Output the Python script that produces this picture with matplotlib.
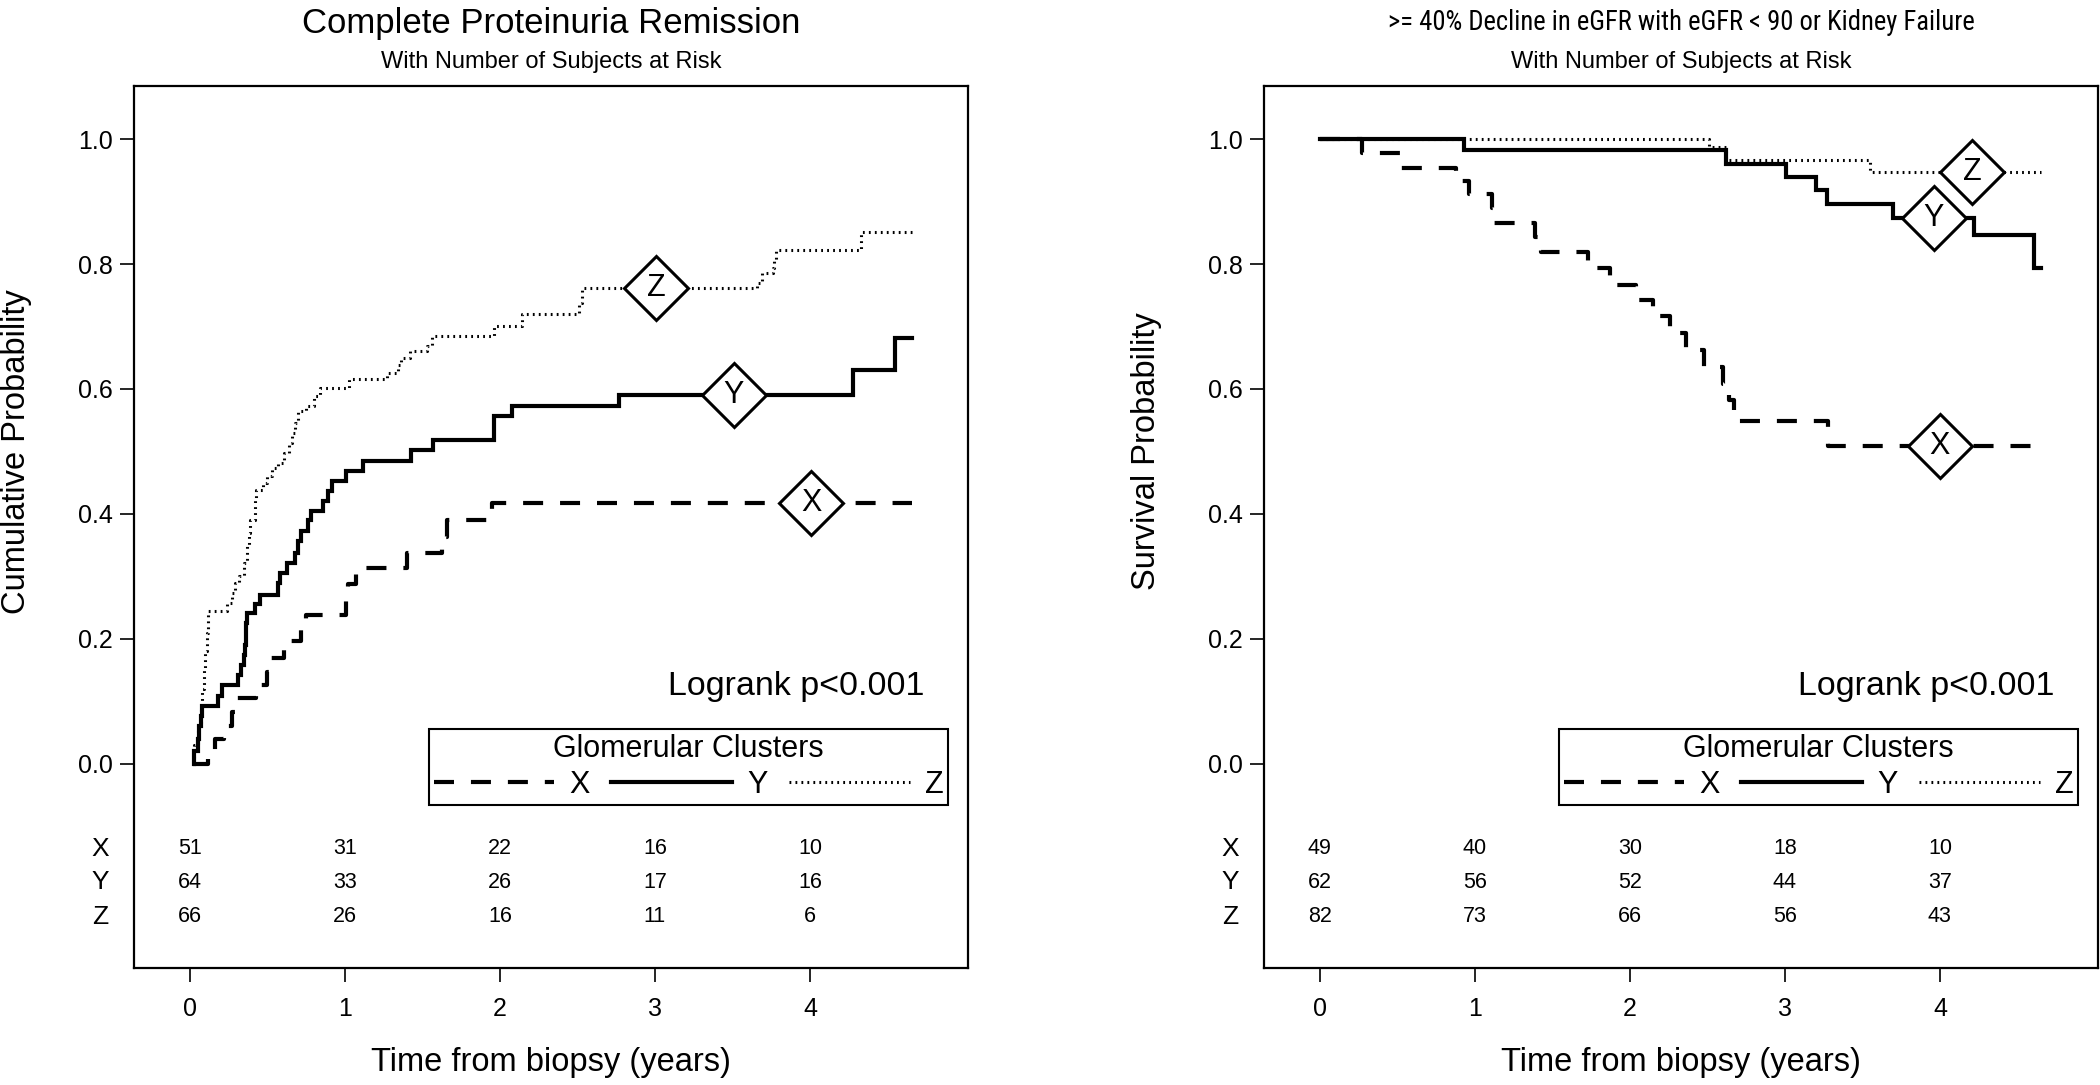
import matplotlib
matplotlib.use("Agg")
import matplotlib.pyplot as plt
from matplotlib import font_manager
from matplotlib.transforms import blended_transform_factory

plt.rcParams['font.family'] = ['Liberation Sans', 'DejaVu Sans']
plt.rcParams['lines.scale_dashes'] = False

CLUSTERS = ["X", "Y", "Z"]
YEARS = [0, 1, 2, 3, 4]

# --- left panel: complete proteinuria remission (cumulative probability, step after t) ---
rem_x_t = [0.02, 0.12, 0.16, 0.22, 0.27, 0.29, 0.43, 0.50, 0.51, 0.61, 0.72, 0.75, 1.01, 1.02,
           1.07, 1.40, 1.63, 1.66, 1.95, 4.66]
rem_x_p = [0.0, 0.02, 0.04, 0.06, 0.083, 0.105, 0.126, 0.147, 0.169, 0.196, 0.217, 0.238, 0.262,
           0.287, 0.313, 0.337, 0.363, 0.39, 0.417, 0.417]
rem_y_t = [0.025, 0.03, 0.05, 0.06, 0.07, 0.08, 0.18, 0.21, 0.31, 0.33, 0.35, 0.355, 0.36, 0.365,
           0.37, 0.42, 0.45, 0.57, 0.58, 0.63, 0.68, 0.70, 0.72, 0.76, 0.78, 0.86, 0.89, 0.92,
           1.01, 1.12, 1.43, 1.57, 1.96, 2.08, 2.77, 4.28, 4.55, 4.66]
rem_y_p = [0.0, 0.02, 0.04, 0.06, 0.077, 0.092, 0.108, 0.126, 0.142, 0.158, 0.174, 0.19, 0.209,
           0.225, 0.241, 0.255, 0.27, 0.289, 0.305, 0.321, 0.337, 0.356, 0.372, 0.39, 0.404,
           0.42, 0.436, 0.452, 0.468, 0.484, 0.503, 0.519, 0.556, 0.572, 0.591, 0.631, 0.681, 0.681]
rem_z_t = [0.025, 0.03, 0.05, 0.07, 0.08, 0.09, 0.10, 0.11, 0.12, 0.24, 0.27, 0.29, 0.32, 0.35,
           0.37, 0.38, 0.39, 0.42, 0.43, 0.47, 0.50, 0.53, 0.57, 0.61, 0.64, 0.66, 0.68, 0.70,
           0.75, 0.80, 0.84, 1.03, 1.27, 1.34, 1.36, 1.42, 1.53, 1.56, 1.96, 2.14, 2.51, 2.53,
           3.66, 3.69, 3.76, 3.77, 3.78, 4.33, 4.66]
rem_z_p = [0.0, 0.03, 0.06, 0.09, 0.12, 0.15, 0.18, 0.21, 0.245, 0.257, 0.273, 0.289, 0.30, 0.321,
           0.348, 0.369, 0.39, 0.423, 0.439, 0.449, 0.46, 0.473, 0.481, 0.497, 0.513, 0.529,
           0.545, 0.564, 0.572, 0.588, 0.601, 0.616, 0.625, 0.639, 0.65, 0.66, 0.668, 0.684,
           0.701, 0.72, 0.737, 0.761, 0.769, 0.785, 0.793, 0.807, 0.822, 0.852, 0.852]
rem_label_t = [4.01, 3.51, 3.01]
rem_at_risk = {"X": [51, 31, 22, 16, 10], "Y": [64, 33, 26, 17, 16], "Z": [66, 26, 16, 11, 6]}

# --- right panel: >= 40% eGFR decline or kidney failure (survival probability) ---
egfr_x_t = [0.0, 0.27, 0.52, 0.88, 0.96, 1.11, 1.12, 1.39, 1.43, 1.73, 1.87, 2.04, 2.15, 2.26,
            2.36, 2.48, 2.60, 2.64, 2.67, 3.28, 4.65]
egfr_x_p = [1.0, 0.978, 0.954, 0.933, 0.912, 0.89, 0.866, 0.844, 0.82, 0.793, 0.767, 0.743,
            0.716, 0.689, 0.662, 0.635, 0.608, 0.582, 0.549, 0.509, 0.509]
egfr_y_t = [0.0, 0.93, 2.62, 3.01, 3.20, 3.27, 3.70, 4.22, 4.61, 4.65]
egfr_y_p = [1.0, 0.982, 0.96, 0.939, 0.918, 0.896, 0.873, 0.847, 0.793, 0.793]
egfr_z_t = [0.0, 2.51, 2.62, 3.55, 4.65]
egfr_z_p = [1.0, 0.988, 0.966, 0.948, 0.948]
egfr_label_t = [4.0, 3.96, 4.21]
egfr_at_risk = {"X": [49, 40, 30, 18, 10], "Y": [62, 56, 52, 44, 37], "Z": [82, 73, 66, 56, 43]}

STYLES = {
    "X": dict(color="black", lw=3.0, dashes=(14.4, 12.2), dash_capstyle="butt"),
    "Y": dict(color="black", lw=3.0, solid_joinstyle="miter"),
    "Z": dict(color="black", lw=2.2, dashes=(1.3, 3.0), dash_capstyle="butt"),
}
AT_RISK_Y = {"X": -0.136, "Y": -0.19, "Z": -0.245}

FIG_W, FIG_H = 2100, 1085


def condensed_font():
    # a narrow sans for the long right-hand title, if one is installed
    fonts = font_manager.fontManager.ttflist
    for want in ["Liberation Sans Narrow", "DejaVu Sans Condensed", "Roboto Condensed",
                 "Open Sans Condensed", "Noto Sans Condensed"]:
        for f in fonts:
            if f.name == want:
                return dict(family=[f.name, "DejaVu Sans"])
    for fam in ["Liberation Sans", "DejaVu Sans", "Noto Sans", "Open Sans", "Roboto"]:
        for f in fonts:
            if f.name == fam and f.stretch in ("condensed", "semi-condensed", 75, 87.5) \
                    and f.style == "normal" and f.weight in ("normal", 400, "regular"):
                return dict(family=[fam], stretch="condensed")
    return dict(family=["Liberation Sans", "DejaVu Sans"])


def fit_text(fig, x, y, s, width_px, size, **kw):
    # shrink a long title so it spans about width_px, like the reference
    t = fig.text(x, y, s, fontsize=size, **kw)
    fig.canvas.draw()
    w = t.get_window_extent().width
    if w > width_px:
        t.set_fontsize(size * width_px / w)
    return t


def panel(ax, curves, label_t, at_risk, title, subtitle, ylabel, title_width=None):
    for name, (t, p) in zip(CLUSTERS, curves):
        ax.step(t, p, where="post", label=name, **STYLES[name])
    for name, (t, p), lt in zip(CLUSTERS, curves, label_t):
        # value of the step curve at the label position
        val = [pp for tt, pp in zip(t, p) if tt <= lt][-1]
        ax.plot([lt], [val], marker="D", ms=33, mfc="white", mec="black", mew=2.2, zorder=5)
        ax.text(lt, val, name, ha="center", va="center", fontsize=22, zorder=6)

    ax.set_xlim(-0.36, 5.02)
    ax.set_ylim(-0.327, 1.085)
    ax.set_xticks(YEARS)
    ax.set_yticks([0.0, 0.2, 0.4, 0.6, 0.8, 1.0])
    ax.set_yticklabels([f"{v:.1f}" for v in [0.0, 0.2, 0.4, 0.6, 0.8, 1.0]])
    ax.tick_params(axis="x", length=10, width=1.2, pad=11, labelsize=18)
    ax.tick_params(axis="y", length=10, width=1.2, pad=5, labelsize=18)
    for s in ax.spines.values():
        s.set_linewidth(1.6)

    ax.text(4.74, 0.123, "Logrank p<0.001", ha="right", va="center", fontsize=24.5)

    leg = ax.legend(loc="center", bbox_to_anchor=(0.665, 0.228), ncol=3, title="Glomerular Clusters",
                    fontsize=22, title_fontsize=22, handlelength=3.95, handletextpad=0.5,
                    columnspacing=0.7, borderpad=0.15, labelspacing=0.2, fancybox=False,
                    edgecolor="black", framealpha=1.0)
    leg.get_frame().set_linewidth(1.5)

    for name in CLUSTERS:
        for yr, n in zip(YEARS, at_risk[name]):
            ax.text(yr, AT_RISK_Y[name], str(n), ha="center", va="center", fontsize=15.5)
        ax.text(-0.575, AT_RISK_Y[name], name, ha="center", va="center", fontsize=19, clip_on=False)

    ax.set_xlabel("Time from biopsy (years)", fontsize=23.5, va="center")
    ax.xaxis.set_label_coords(0.5, -(1063 - 968) / 882)
    ax.set_ylabel(ylabel, fontsize=23.5, va="center")
    ax.yaxis.set_label_coords(-0.141, 0.5, transform=blended_transform_factory(ax.transAxes, ax.transData))

    bb = ax.get_position()
    cx = bb.x0 + bb.width / 2
    if title_width:
        fit_text(ax.figure, cx, 1 - 23 / FIG_H, title, title_width, 25, ha="center", va="center",
                 **condensed_font())
    else:
        ax.figure.text(cx, 1 - 23 / FIG_H, title, ha="center", va="center", fontsize=25)
    ax.figure.text(cx, 1 - 62 / FIG_H, subtitle, ha="center", va="center", fontsize=17)


fig = plt.figure(figsize=(FIG_W / 100, FIG_H / 100), dpi=100)
ax_l = fig.add_axes([134 / FIG_W, 1 - 968 / FIG_H, 834 / FIG_W, 882 / FIG_H])
ax_r = fig.add_axes([1264 / FIG_W, 1 - 968 / FIG_H, 834 / FIG_W, 882 / FIG_H])

panel(ax_l, [(rem_x_t, rem_x_p), (rem_y_t, rem_y_p), (rem_z_t, rem_z_p)], rem_label_t, rem_at_risk,
      "Complete Proteinuria Remission", "With Number of Subjects at Risk", "Cumulative Probability")
panel(ax_r, [(egfr_x_t, egfr_x_p), (egfr_y_t, egfr_y_p), (egfr_z_t, egfr_z_p)], egfr_label_t, egfr_at_risk,
      ">= 40% Decline in eGFR with eGFR < 90 or Kidney Failure", "With Number of Subjects at Risk",
      "Survival Probability", title_width=590)

fig.savefig("out.png", dpi=100, facecolor="white")
